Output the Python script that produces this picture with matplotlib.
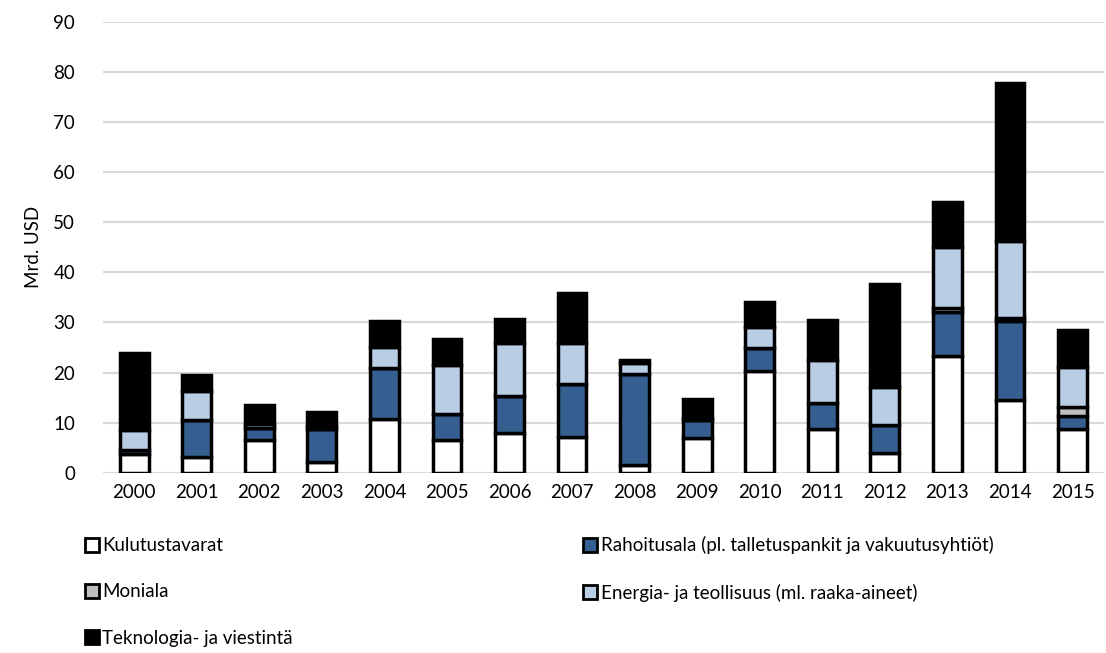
"""
Stacked bars: sector breakdown by year (Mrd. USD)
"""
import matplotlib
matplotlib.use('Agg')
import matplotlib.pyplot as plt
import matplotlib.patches as mpatches
import numpy as np

plt.rcParams['font.family'] = ['Lato', 'DejaVu Sans']

years = ['2000', '2001', '2002', '2003', '2004', '2005', '2006', '2007',
         '2008', '2009', '2010', '2011', '2012', '2013', '2014', '2015']

kulutustavarat = [3.7, 3.2, 6.5, 2.2, 10.7, 6.5, 8.0, 7.2, 1.5, 7.0, 20.2, 8.8, 3.9, 23.2, 14.5, 8.8]
rahoitusala = [0.8, 7.4, 2.5, 6.6, 10.2, 5.3, 7.4, 10.6, 18.3, 3.6, 4.6, 5.2, 5.6, 8.9, 15.8, 2.5]
moniala = [0.0, 0.0, 0.0, 0.0, 0.0, 0.0, 0.0, 0.0, 0.0, 0.0, 0.0, 0.0, 0.0, 0.8, 0.5, 1.9]
energia = [4.0, 5.8, 0.8, 0.6, 4.2, 9.7, 10.4, 8.0, 2.0, 0.4, 4.2, 8.4, 7.7, 12.2, 15.5, 7.8]
teknologia = [15.3, 3.1, 3.8, 2.8, 5.2, 5.2, 4.9, 10.1, 0.7, 3.8, 5.1, 8.1, 20.5, 9.0, 31.4, 7.5]

SERIES = [
    ('Kulutustavarat', kulutustavarat, '#FFFFFF'),
    ('Rahoitusala (pl. talletuspankit ja vakuutusyhtiöt)', rahoitusala, '#365F91'),
    ('Moniala', moniala, '#BFBFBF'),
    ('Energia- ja teollisuus (ml. raaka-aineet)', energia, '#B9CDE5'),
    ('Teknologia- ja viestintä', teknologia, '#000000'),
]

FS = 13.5

fig = plt.figure(figsize=(11.06, 6.53), dpi=100)
ax = fig.add_axes([0.093, 0.276, 0.905, 0.691])

x = np.arange(len(years))
bottom = np.zeros(len(years))
handles = {}
for name, vals, c in SERIES:
    vals = np.array(vals)
    ax.bar(x, vals, bottom=bottom, width=0.46, color=c, edgecolor='black',
           linewidth=2.5, zorder=3)
    handles[name] = mpatches.Patch(facecolor=c, edgecolor='black', linewidth=2)
    bottom += vals

ax.set_xlim(-0.5, len(years) - 0.5)
ax.set_ylim(0, 90)
ax.set_yticks(np.arange(0, 91, 10))
ax.set_xticks(x)
ax.set_xticklabels(years)
ax.tick_params(axis='both', length=0, labelsize=FS)
ax.tick_params(axis='x', pad=8)
ax.tick_params(axis='y', pad=20)
ax.yaxis.grid(True, color='#d9d9d9', linewidth=1.5, zorder=0)
ax.set_axisbelow(True)
for s in ax.spines.values():
    s.set_visible(False)
ax.set_ylabel('Mrd. USD', fontsize=FS, labelpad=8)

# row-major order in the reference -> column-first order for matplotlib
order = ['Kulutustavarat', 'Moniala', 'Teknologia- ja viestintä',
         'Rahoitusala (pl. talletuspankit ja vakuutusyhtiöt)',
         'Energia- ja teollisuus (ml. raaka-aineet)']
fig.legend([handles[n] for n in order], order, ncol=2, loc='upper left',
           bbox_to_anchor=(0.068, 0.193), frameon=False, fontsize=FS,
           handlelength=0.75, handleheight=0.75, handletextpad=0.2,
           labelspacing=1.55, columnspacing=15.45, borderpad=0)

fig.savefig('out.png', dpi=100)
